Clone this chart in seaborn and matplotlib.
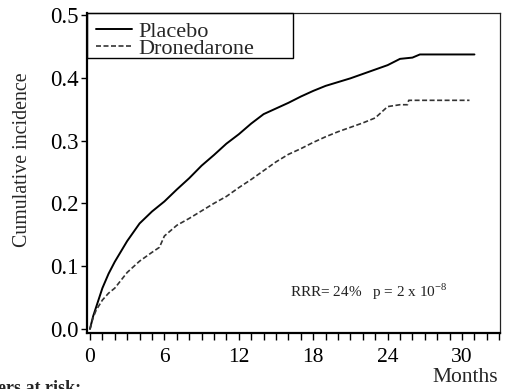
import numpy as np
import pandas as pd
import matplotlib
matplotlib.use("Agg")
import matplotlib.pyplot as plt
from matplotlib.patches import Rectangle
from matplotlib.ticker import MultipleLocator
import seaborn as sns

# Cumulative incidence over follow-up (months)
placebo_months = [0, 0.25, 0.5, 1, 1.5, 2, 3, 4, 5, 6, 7, 8, 9, 10, 11, 12, 13, 14,
                  15, 16, 17, 18, 19, 20, 21, 22, 23, 24, 25, 26, 26.6, 31]
placebo_inc = [0, 0.02, 0.035, 0.065, 0.088, 0.107, 0.14, 0.168, 0.187, 0.203, 0.222,
               0.24, 0.26, 0.277, 0.295, 0.31, 0.327, 0.342, 0.351, 0.36, 0.37, 0.379,
               0.387, 0.393, 0.399, 0.406, 0.413, 0.42, 0.43, 0.432, 0.437, 0.437]

drone_months = [0, 0.25, 0.5, 1, 1.5, 2, 3, 4, 5, 5.6, 6, 7, 8, 9, 10, 11, 12, 13, 14,
                15, 16, 17, 18, 19, 20, 21, 22, 23, 23.5, 24, 25, 25.6, 25.7, 30.6]
drone_inc = [0, 0.018, 0.03, 0.046, 0.057, 0.065, 0.09, 0.108, 0.122, 0.13, 0.148,
             0.165, 0.176, 0.188, 0.2, 0.211, 0.225, 0.238, 0.252, 0.266, 0.278, 0.287,
             0.297, 0.306, 0.314, 0.321, 0.328, 0.336, 0.345, 0.354, 0.357, 0.357,
             0.364, 0.364]

x_ticks = [0, 6, 12, 18, 24, 30]
y_ticks = [0.0, 0.1, 0.2, 0.3, 0.4, 0.5]
y_ticklabels = ["0.0", "0.1", "0.2", "0.3", "0.4", "0.5"]

sns.set_style("ticks")
plt.rcParams["font.family"] = ["Liberation Serif", "DejaVu Serif"]
plt.rcParams["mathtext.fontset"] = "custom"
plt.rcParams["mathtext.rm"] = "Liberation Serif"

W, H = 505, 389
fig = plt.figure(figsize=(W / 100, H / 100), dpi=100)
ax = fig.add_axes([87 / W, 1 - 333 / H, (500 - 87) / W, (333 - 13) / H])
aw, ah = 413, 320  # axes size in pixels

placebo_df = pd.DataFrame({"Months": placebo_months, "Incidence": placebo_inc})
drone_df = pd.DataFrame({"Months": drone_months, "Incidence": drone_inc})

sns.lineplot(data=placebo_df, x="Months", y="Incidence", ax=ax, color="black",
             linewidth=1.4, estimator=None, sort=False, label="Placebo")
sns.lineplot(data=drone_df, x="Months", y="Incidence", ax=ax, color="#333333",
             linewidth=1.2, linestyle=(0, (3.0, 1.5)), estimator=None, sort=False,
             label="Dronedarone")

ax.set_xlim(-0.24, 33.06)
ax.set_ylim(-0.0064, 0.503)
ax.set_xticks(x_ticks)
ax.set_xticklabels([str(t) for t in x_ticks])
ax.xaxis.set_minor_locator(MultipleLocator(1))
ax.set_yticks(y_ticks)
ax.set_yticklabels(y_ticklabels)

ax.tick_params(axis="both", which="both", direction="out", colors="black", width=1.0)
ax.tick_params(axis="x", which="major", length=5, pad=6, labelsize=15.5)
ax.tick_params(axis="x", which="minor", length=5)
ax.tick_params(axis="y", which="major", length=4, pad=2, labelsize=16.5)

for side in ["left", "bottom"]:
    ax.spines[side].set_linewidth(1.6)
    ax.spines[side].set_color("black")
for side in ["top", "right"]:
    ax.spines[side].set_visible(True)
    ax.spines[side].set_linewidth(0.9)
    ax.spines[side].set_color("#222222")

ax.set_xlabel("")
ax.set_ylabel("Cumulative incidence", fontsize=14.3)
ax.yaxis.set_label_coords((32 - 87) / aw, (333 - 160) / ah)

# legend entries without their own frame; the box is drawn separately
leg = ax.legend(loc="upper left", bbox_to_anchor=(5 / aw, (333 - 17) / ah),
                frameon=False, fontsize=16, borderpad=0.2, labelspacing=-0.16,
                handlelength=1.6, handletextpad=0.3, borderaxespad=0.0)
ax.add_patch(Rectangle((0, (333 - 58) / ah), (293 - 87) / aw, (58 - 13) / ah,
                       transform=ax.transAxes, fill=False, edgecolor="black",
                       linewidth=1.0, clip_on=False, zorder=5))

fig.text(290 / W, 1 - 292 / H, "RRR= 24%   p = 2 x 10$^{-8}$",
         fontsize=11, va="center", ha="left", color="#222222")
fig.text(498 / W, 1 - 378 / H, "Months", fontsize=15.5, ha="right", va="center")
fig.text(81 / W, 1 - 393 / H, "Numbers at risk:", fontsize=13, fontweight="bold",
         ha="right", va="baseline")

fig.savefig("out.png", dpi=100, facecolor="white")
